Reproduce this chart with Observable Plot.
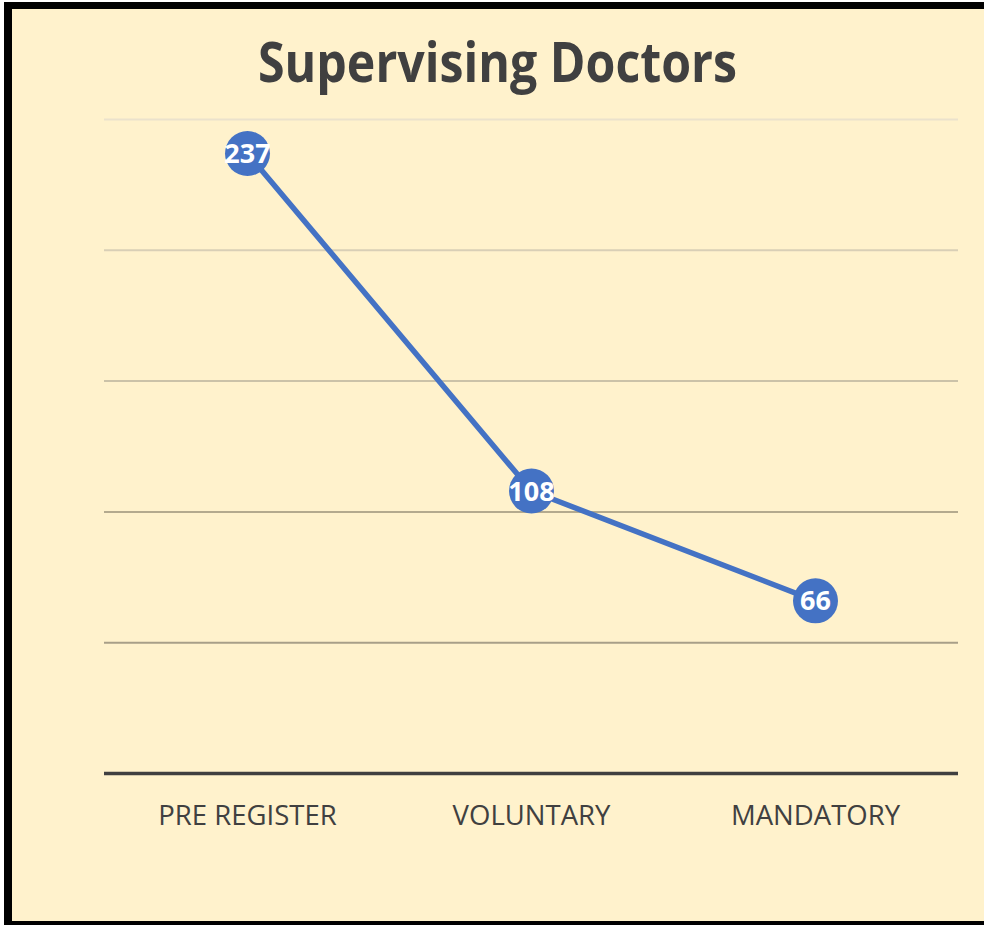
<!DOCTYPE html>
<html>
<head>
<meta charset="utf-8">
<script src="https://cdn.jsdelivr.net/npm/d3@7"></script>
<script src="https://cdn.jsdelivr.net/npm/@observablehq/plot@0.6"></script>
<style>
  html, body { margin: 0; padding: 0; background: #ffffff; overflow: hidden; }
  body { width: 984px; height: 925px; position: relative; }
  #frame {
    position: absolute; left: 4px; top: 2px; width: 972px; height: 912px;
    background: #FFF2CC;
    border-left: 8px solid #000; border-top: 7px solid #000; border-bottom: 4px solid #000;
  }
  #title {
    position: absolute; left: 0; top: 33px; width: 973px; padding-left: 11px; text-align: center;
    font-family: "Open Sans", sans-serif; font-weight: 700; font-size: 55px; line-height: 1;
    color: #404040; transform-origin: 497.5px 50%; white-space: nowrap;
  }
  #chart { position: absolute; left: 0; top: 0; width: 984px; height: 925px; }
</style>
</head>
<body>
<div id="frame"></div>
<div id="title"><span id="titletext">Supervising Doctors</span></div>
<div id="chart"></div>
<script>
const categories = ["PRE REGISTER", "VOLUNTARY", "MANDATORY"];
const values = [237, 108, 66];
const gridTicks = [50, 100, 150, 200, 250];
const gridColors = ["#A89F88", "#B4AA8E", "#CBC2A8", "#D9CFB6", "#EBE2CC"];

const data = categories.map((c, i) => ({category: c, value: values[i]}));

const plot = Plot.plot({
  width: 984,
  height: 925,
  marginLeft: 104,
  marginRight: 26,
  marginTop: 119,
  marginBottom: 152,
  style: {background: "transparent", fontFamily: "Open Sans, sans-serif"},
  x: {type: "point", domain: categories, padding: 0.5, label: null},
  y: {domain: [0, 250], axis: null},
  marks: [
    Plot.ruleY(gridTicks, {stroke: (d, i) => gridColors[i], strokeWidth: 2}),
    Plot.ruleY([0], {stroke: "#404040", strokeWidth: 3.5}),
    Plot.axisX({tickSize: 0, tickPadding: 32, fontSize: 27.5, fill: "#404040", label: null}),
    Plot.line(data, {x: "category", y: "value", stroke: "#4472C4", strokeWidth: 5.5}),
    Plot.dot(data, {x: "category", y: "value", r: 22.5, fill: "#4472C4", stroke: "none"}),
    Plot.text(data, {x: "category", y: "value", text: d => String(d.value), fill: "#ffffff",
      fontSize: 27, fontWeight: "bold", dy: 1})
  ]
});
document.getElementById("chart").appendChild(plot);

// fit the title width to the reference's
const span = document.getElementById("titletext");
const w = span.getBoundingClientRect().width;
const k = 479 / w;
document.getElementById("title").style.transform = `scaleX(${k})`;
</script>
</body>
</html>
